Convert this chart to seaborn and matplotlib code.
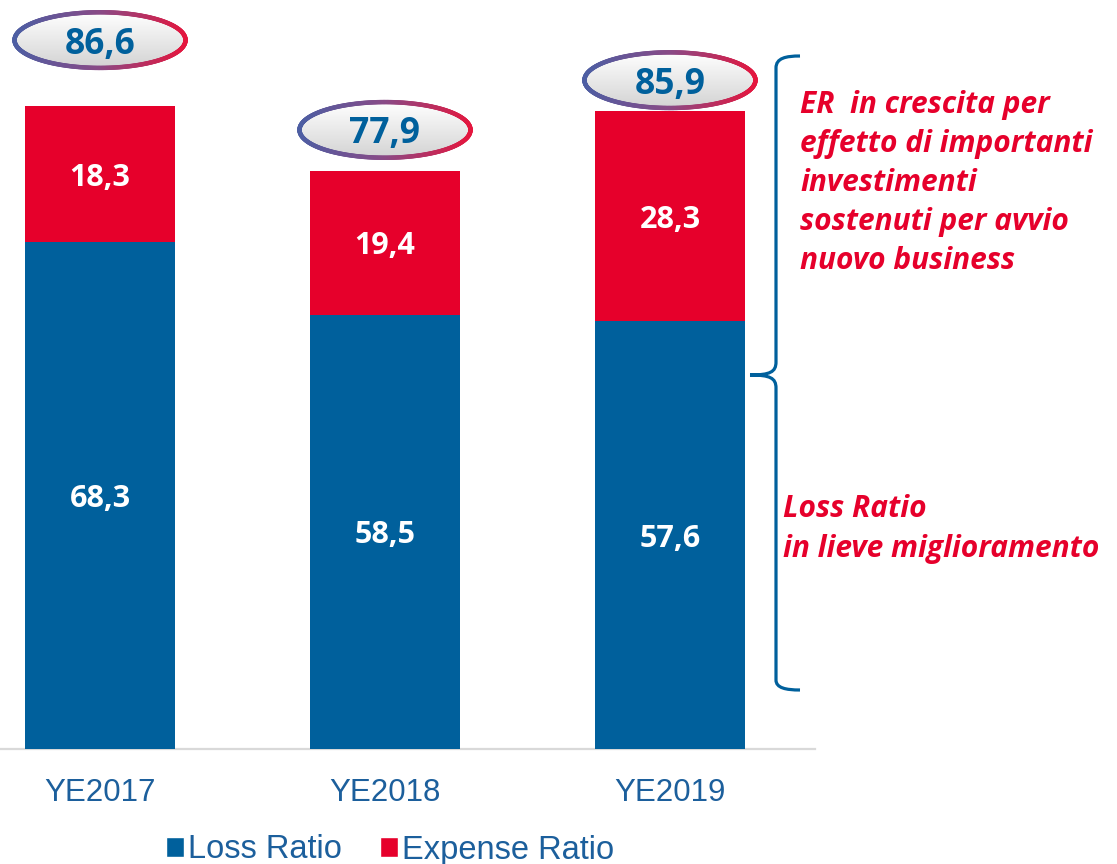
import numpy as np
import pandas as pd
import matplotlib
matplotlib.use("Agg")
import matplotlib.pyplot as plt
import seaborn as sns
from matplotlib.patches import Ellipse, Patch, PathPatch
from matplotlib.path import Path
from matplotlib.collections import LineCollection
from matplotlib.colors import LinearSegmentedColormap

# ---- data ----
years = ["YE2017", "YE2018", "YE2019"]
loss_ratio = [68.3, 58.5, 57.6]
expense_ratio = [18.3, 19.4, 28.3]
combined_ratio = [86.6, 77.9, 85.9]
legend_labels = ["Loss Ratio", "Expense Ratio"]
note_er = "ER  in crescita per\neffetto di importanti\ninvestimenti\nsostenuti per avvio\nnuovo business"
note_lr = "Loss Ratio\nin lieve miglioramento"

# ---- layout / style ----
BLUE = "#00609c"
RED = "#e6002b"
TXT = "#1c5f9c"
ellipse_offsets = [8.9, 5.5, 4.2]

def fmt(v):
    return f"{v:.1f}".replace(".", ",")

sns.set_theme(style="white")
plt.rcParams["font.family"] = ["Open Sans", "DejaVu Sans"]

W, H = 1117, 864
fig = plt.figure(figsize=(W / 100, H / 100), dpi=100)
ax = fig.add_axes([0, 1 - 749 / H, 815 / W, 749 / H])

df = pd.DataFrame({"year": years, "lr": loss_ratio, "er": expense_ratio})
df["total"] = df["lr"] + df["er"]

sns.barplot(data=df, x="year", y="total", color=RED, width=0.526,
            saturation=1, ax=ax, zorder=2, linewidth=0)
sns.barplot(data=df, x="year", y="lr", color=BLUE, width=0.526,
            saturation=1, ax=ax, zorder=3, linewidth=0)

ax.set_xlim(-0.351, 2.509)
ax.set_ylim(0, 100.9)
ax.set_yticks([])
ax.set_xlabel("")
ax.set_ylabel("")
for s in ["top", "right", "left"]:
    ax.spines[s].set_visible(False)
ax.spines["bottom"].set_color("#d9d9d9")
ax.spines["bottom"].set_linewidth(1.6)
ax.tick_params(axis="x", length=0, pad=21)
for lab in ax.get_xticklabels():
    lab.set_fontfamily("Liberation Sans")
    lab.set_fontsize(22.5)
    lab.set_color(TXT)

# segment labels
for i, (lr, er) in enumerate(zip(loss_ratio, expense_ratio)):
    ax.text(i, lr / 2, fmt(lr), ha="center", va="center_baseline", color="white",
            fontsize=22, fontweight="bold", zorder=5)
    ax.text(i, lr + er / 2, fmt(er), ha="center", va="center_baseline", color="white",
            fontsize=22, fontweight="bold", zorder=5)

# ellipses with combined ratio
cmap = LinearSegmentedColormap.from_list("g", ["#4d5ea3", "#8a4a86", "#e5163e"])
grad = np.linspace(0, 1, 100).reshape(-1, 1)
fill_cmap = LinearSegmentedColormap.from_list("f", ["#ffffff", "#e9e9e9", "#d3d3d3"])
ew, eh = 0.6, 7.5
for i, (cr, off) in enumerate(zip(combined_ratio, ellipse_offsets)):
    cx, cy = i, cr + off
    el = Ellipse((cx, cy), ew, eh, facecolor="none", edgecolor="none", zorder=4)
    ax.add_patch(el)
    im = ax.imshow(grad, cmap=fill_cmap, aspect="auto",
                   extent=(cx - ew / 2, cx + ew / 2, cy - eh / 2, cy + eh / 2),
                   origin="upper", zorder=4)
    im.set_clip_path(el)
    t = np.linspace(0, 2 * np.pi, 400)
    xs = cx + ew / 2 * np.cos(t)
    ys = cy + eh / 2 * np.sin(t)
    pts = np.column_stack([xs, ys]).reshape(-1, 1, 2)
    segs = np.concatenate([pts[:-1], pts[1:]], axis=1)
    lc = LineCollection(segs, colors=cmap((xs[:-1] - (cx - ew / 2)) / ew),
                        linewidths=3.2, zorder=5, capstyle="round")
    ax.add_collection(lc)
    ax.text(cx, cy, fmt(cr), ha="center", va="center_baseline", color=BLUE,
            fontsize=25.5, fontweight="bold", zorder=6)
ax.set_xlim(-0.351, 2.509)
ax.set_ylim(0, 100.9)

# overlay for bracket and notes (pixel coords)
ov = fig.add_axes([0, 0, 1, 1], facecolor="none")
ov.set_xlim(0, W)
ov.set_ylim(H, 0)
ov.axis("off")

verts = [(800, 56), (786, 56), (776, 58), (776, 68), (776, 362),
         (776, 372), (770, 375), (750, 375),
         (770, 375), (776, 378), (776, 388), (776, 680),
         (776, 688), (786, 690), (800, 690)]
codes = [Path.MOVETO, Path.CURVE4, Path.CURVE4, Path.CURVE4, Path.LINETO,
         Path.CURVE4, Path.CURVE4, Path.CURVE4,
         Path.CURVE4, Path.CURVE4, Path.CURVE4, Path.LINETO,
         Path.CURVE4, Path.CURVE4, Path.CURVE4]
ov.add_patch(PathPatch(Path(verts, codes), facecolor="none", edgecolor=BLUE,
                       linewidth=2.3))

ov.text(800, 183, note_er, ha="left", va="center", color=RED, fontsize=21.5,
        fontweight="bold", fontstyle="italic", linespacing=1.4)
ov.text(783, 529, note_lr, ha="left", va="center", color=RED, fontsize=21.5,
        fontweight="bold", fontstyle="italic", linespacing=1.4)

handles = [Patch(facecolor=BLUE, label=legend_labels[0]),
           Patch(facecolor=RED, label=legend_labels[1])]
leg = fig.legend(handles=handles, loc="center", bbox_to_anchor=(390 / W, 1 - 850 / H),
                 ncol=2, frameon=False, handlelength=0.55, handleheight=0.55,
                 handletextpad=0.12, columnspacing=1.15,
                 prop={"family": "Liberation Sans", "size": 23.5})
for txt in leg.get_texts():
    txt.set_color(TXT)

fig.savefig("out.png", dpi=100)
